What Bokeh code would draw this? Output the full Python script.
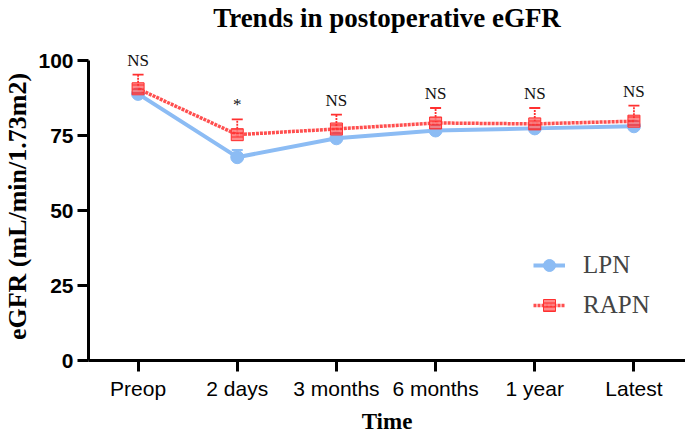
from bokeh.plotting import figure
from bokeh.models import Range1d, FixedTicker, Whisker, TeeHead, ColumnDataSource, Legend, LegendItem, LabelSet
from bokeh.embed import file_html
from bokeh.resources import INLINE

categories = ["Preop", "2 days", "3 months", "6 months", "1 year", "Latest"]
lpn_mean = [88.9, 67.8, 74.1, 76.7, 77.4, 78.1]
lpn_upper = [90.2, 70.2, 75.3, 77.9, 78.6, 79.3]
rapn_mean = [90.6, 75.3, 77.2, 79.2, 78.9, 79.8]
rapn_upper = [95.3, 80.4, 82.0, 84.2, 84.2, 85.0]
sig_labels = ["NS", "*", "NS", "NS", "NS", "NS"]
y_ticks = [0, 25, 50, 75, 100]

xs = list(range(len(categories)))

BLUE = "#8CBCF4"
RED = "#FF3030"
SERIF = "Liberation Serif"
SANS = "Liberation Sans"

p = figure(width=685, height=437, output_backend="svg", toolbar_location=None,
           x_range=Range1d(-0.5, 5.52), y_range=Range1d(0, 102.7),
           min_border_left=88, min_border_right=0, min_border_top=52, min_border_bottom=77)

p.title.text = "Trends in postoperative eGFR\n "
p.title.align = "center"
p.title.text_font = SERIF
p.title.text_font_size = "27px"
p.title.text_line_height = 0.66
p.title.text_font_style = "bold"
p.title.text_color = "black"
p.title.standoff = 0

p.grid.visible = False
p.outline_line_color = None

for ax in (p.xaxis[0], p.yaxis[0]):
    ax.axis_line_width = 3
    ax.major_tick_line_width = 3
    ax.major_tick_out = 11
    ax.major_tick_in = 0
    ax.minor_tick_line_color = None
    ax.axis_line_color = "black"
    ax.major_tick_line_color = "black"
    ax.axis_label_text_color = "black"
    ax.major_label_text_color = "black"

p.xaxis.ticker = FixedTicker(ticks=xs)
p.xaxis.major_label_overrides = {i: c for i, c in zip(xs, categories)}
p.xaxis.major_label_text_font = SANS
p.xaxis.major_label_text_font_size = "21px"
p.xaxis.major_label_standoff = 5
p.xaxis.axis_label = "Time"
p.xaxis.axis_label_text_font = SERIF
p.xaxis.axis_label_text_font_size = "23px"
p.xaxis.axis_label_text_font_style = "bold"
p.xaxis.axis_label_standoff = 6

p.yaxis.ticker = FixedTicker(ticks=y_ticks)
p.yaxis.bounds = (0, 100)
p.yaxis.major_label_text_font = SANS
p.yaxis.major_label_text_font_size = "21px"
p.yaxis.major_label_text_font_style = "bold"
p.yaxis.major_label_standoff = 4
p.yaxis.axis_label = "eGFR (mL/min/1.73m2)"
p.yaxis.axis_label_text_font = SERIF
p.yaxis.axis_label_text_font_size = "26px"
p.yaxis.axis_label_text_font_style = "bold"
p.yaxis.axis_label_standoff = 3

src = ColumnDataSource(dict(x=xs, lpn=lpn_mean, lpn_up=lpn_upper,
                            rapn=rapn_mean, rapn_up=rapn_upper, sig=sig_labels))

# LPN
bw = Whisker(source=src, base="x", lower="lpn", upper="lpn_up", line_color=BLUE, line_width=2,
             upper_head=TeeHead(size=11, line_color=BLUE, line_width=2), lower_head=None)
p.add_layout(bw)
bl = p.line("x", "lpn", source=src, line_color=BLUE, line_width=4)
bm = p.scatter("x", "lpn", source=src, marker="circle", size=13, fill_color=BLUE, line_color=BLUE)

# RAPN
rw = Whisker(source=src, base="x", lower="rapn", upper="rapn_up", line_color=RED, line_width=1.8,
             line_dash="2 1",
             upper_head=TeeHead(size=11, line_color=RED, line_width=1.8), lower_head=None)
p.add_layout(rw)
rl = p.line("x", "rapn", source=src, line_color=RED, line_width=3.5, line_alpha=0.85, line_dash="3 1")
rm = p.scatter("x", "rapn", source=src, marker="square", size=12, fill_color=RED, fill_alpha=0.8,
               line_color=RED, hatch_pattern="horizontal_line", hatch_color="white",
               hatch_scale=4, hatch_weight=1, hatch_alpha=0.6)

labels = LabelSet(x="x", y="rapn_up", text="sig", source=src, text_align="center",
                  text_baseline="bottom", y_offset=5, text_font=SERIF,
                  text_font_size="17px", text_color="#111111")
p.add_layout(labels)

legend = Legend(items=[LegendItem(label="LPN", renderers=[bl, bm]),
                       LegendItem(label="RAPN", renderers=[rl, rm])],
                location=(445, 40), border_line_color=None, background_fill_alpha=0,
                padding=0, margin=0, spacing=10, glyph_width=32, glyph_height=30,
                label_height=30, label_standoff=18,
                label_text_font=SERIF, label_text_font_size="25px")
p.add_layout(legend, "center")

open("out.html", "w").write(file_html(p, INLINE))
